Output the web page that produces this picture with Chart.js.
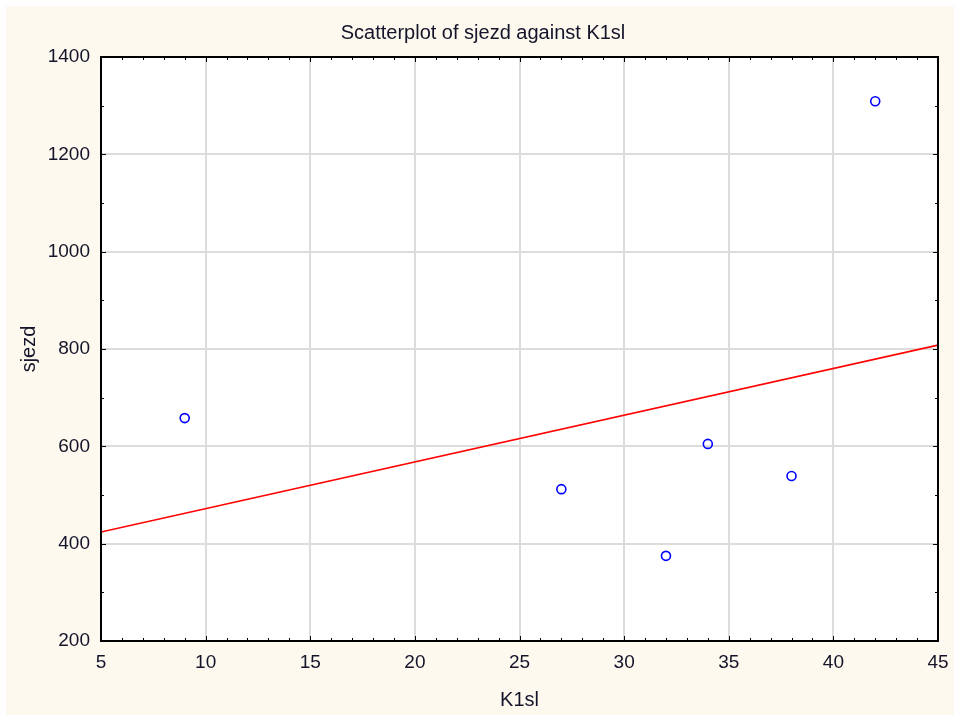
<!DOCTYPE html>
<html>
<head>
<meta charset="utf-8">
<script src="https://cdn.jsdelivr.net/npm/chart.js@4"></script>
<style>
  html, body { margin: 0; padding: 0; background: #ffffff; overflow: hidden; }
  #wrap { width: 954px; height: 715px; }
</style>
</head>
<body>
<div id="wrap"><canvas id="c" width="954" height="715"></canvas></div>
<script>
// ---- data ----
const chartTitle = "Scatterplot of sjezd against K1sl";
const xTitle = "K1sl";
const yTitle = "sjezd";
const xValues = [9, 27, 32, 34, 38, 42];
const yValues = [658, 512, 375, 605, 539, 1309];
const fitX = [5, 45];
const fitY = [424, 808];
const xTicks = [5, 10, 15, 20, 25, 30, 35, 40, 45];
const yTicks = [200, 400, 600, 800, 1000, 1200, 1400];
const xMinorStep = 1;
const yMinorStep = 100;

const FONT = "'Liberation Sans', Arial, sans-serif";
const TXT = "#14142a";
const CREAM = "#fef9ef";

const pointData = xValues.map((x, i) => ({ x: x, y: yValues[i] }));
const fitData = fitX.map((x, i) => ({ x: x, y: fitY[i] }));

const framePlugin = {
  id: 'frame',
  beforeDraw(chart) {
    const ctx = chart.ctx, a = chart.chartArea;
    ctx.save();
    ctx.fillStyle = '#ffffff';
    ctx.fillRect(0, 0, chart.width, chart.height);
    ctx.fillStyle = CREAM;
    ctx.fillRect(6, 6, chart.width - 6, chart.height - 6);
    ctx.fillStyle = '#ffffff';
    ctx.fillRect(a.left, a.top, a.right - a.left, a.bottom - a.top);
    ctx.fillStyle = TXT;
    ctx.font = "20px " + FONT;
    ctx.textAlign = 'center';
    ctx.textBaseline = 'middle';
    ctx.fillText(chartTitle, 483, 33);
    ctx.restore();
  },
  afterDraw(chart) {
    const ctx = chart.ctx, a = chart.chartArea;
    const xs = chart.scales.x, ys = chart.scales.y;
    ctx.save();
    ctx.strokeStyle = '#000000';
    ctx.lineWidth = 1;
    ctx.beginPath();
    for (let v = xs.min; v <= xs.max + 1e-9; v += xMinorStep) {
      const px = Math.round(xs.getPixelForValue(v)) + 0.5;
      const len = xTicks.includes(v) ? 5 : 3;
      ctx.moveTo(px, a.bottom); ctx.lineTo(px, a.bottom - len);
      ctx.moveTo(px, a.top); ctx.lineTo(px, a.top + len);
    }
    for (let v = ys.min; v <= ys.max + 1e-9; v += yMinorStep) {
      const py = Math.round(ys.getPixelForValue(v)) + 0.5;
      const len = yTicks.includes(v) ? 5 : 3;
      ctx.moveTo(a.left, py); ctx.lineTo(a.left + len, py);
      ctx.moveTo(a.right, py); ctx.lineTo(a.right - len, py);
    }
    ctx.stroke();
    ctx.lineWidth = 2;
    ctx.strokeRect(a.left, a.top, a.right - a.left, a.bottom - a.top);
    ctx.restore();
  }
};

new Chart(document.getElementById('c'), {
  type: 'scatter',
  data: {
    datasets: [
      {
        label: 'fit',
        type: 'line',
        data: fitData,
        borderColor: '#ff0000',
        borderWidth: 1.5,
        pointRadius: 0,
        fill: false,
        tension: 0,
        order: 2
      },
      {
        label: 'sjezd',
        data: pointData,
        pointStyle: 'circle',
        pointRadius: 4.5,
        pointBorderWidth: 1.6,
        pointBorderColor: '#0000ff',
        pointBackgroundColor: 'rgba(0,0,0,0)',
        order: 1
      }
    ]
  },
  options: {
    responsive: false,
    animation: false,
    devicePixelRatio: 1,
    layout: { padding: { top: 57, right: 16, left: 0, bottom: 0 } },
    plugins: {
      legend: { display: false },
      title: { display: false },
      tooltip: { enabled: false }
    },
    scales: {
      x: {
        type: 'linear',
        min: 5, max: 45,
        afterBuildTicks(scale) { scale.ticks = xTicks.map(v => ({ value: v })); },
        afterFit(scale) { scale.height = 74; scale.paddingLeft = 0; scale.paddingRight = 0; },
        ticks: { color: TXT, font: { family: FONT, size: 19 }, padding: 10, maxRotation: 0,
                 callback: (v) => String(v) },
        grid: { color: '#dcdcdc', lineWidth: 2, drawTicks: false, tickLength: 0 },
        border: { display: false },
        title: { display: true, text: xTitle, color: TXT, font: { family: FONT, size: 20 }, padding: { top: 0, bottom: 3 } }
      },
      y: {
        type: 'linear',
        min: 200, max: 1400,
        afterBuildTicks(scale) { scale.ticks = yTicks.map(v => ({ value: v })); },
        afterFit(scale) { scale.width = 101; scale.paddingTop = 0; scale.paddingBottom = 0; },
        ticks: { color: TXT, font: { family: FONT, size: 19 }, padding: 11,
                 callback: (v) => String(v) },
        grid: { color: '#dcdcdc', lineWidth: 2, drawTicks: false, tickLength: 0 },
        border: { display: false },
        title: { display: true, text: yTitle, color: TXT, font: { family: FONT, size: 20 }, padding: { top: 17, bottom: 0 } }
      }
    }
  },
  plugins: [framePlugin]
});
</script>
</body>
</html>
